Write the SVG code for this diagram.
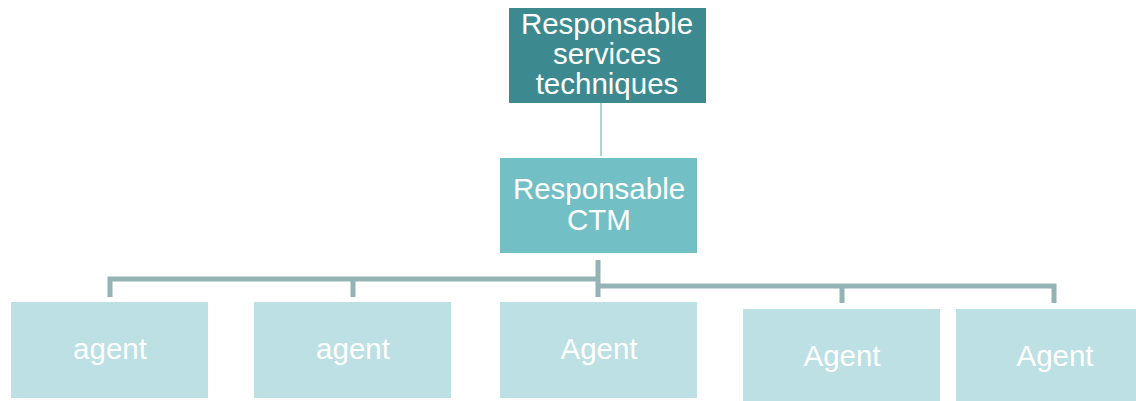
<svg xmlns="http://www.w3.org/2000/svg" width="1136" height="401" viewBox="0 0 1136 401">
<style>
text{font-family:"Liberation Sans",Arial,sans-serif;font-size:29.5px;fill:#fff;text-anchor:middle}
.lvl3{fill:#bce0e3}
.conn{stroke:#94b3b5;stroke-width:5;fill:none}
</style>
<rect width="1136" height="401" fill="#fff"/>
<g id="connectors">
<line x1="601" y1="96" x2="601" y2="156" stroke="#a8d5d8" stroke-width="2"/>
<path class="conn" d="M110 297 V279 H598 M353 279 V297"/>
<path class="conn" d="M598 260 V297 M598 286 H1054 V303 M842 286 V303"/>
</g>
<g id="n_top"><rect x="509" y="8" width="197" height="95" fill="#3c8a8f"/>
<text x="607" y="34">Responsable</text><text x="607" y="64">services</text><text x="607" y="94">techniques</text></g>
<g id="n_ctm"><rect x="500" y="158" width="197" height="95" fill="#72bfc6"/>
<text x="599" y="199">Responsable</text><text x="599" y="230">CTM</text></g>
<g id="n_a1"><rect class="lvl3" x="11" y="302" width="197" height="96"/><text x="110" y="359">agent</text></g>
<g id="n_a2"><rect class="lvl3" x="254" y="302" width="197" height="96"/><text x="353" y="359">agent</text></g>
<g id="n_a3"><rect class="lvl3" x="500" y="302" width="197" height="96"/><text x="599" y="359">Agent</text></g>
<g id="n_a4"><rect class="lvl3" x="743" y="309" width="197" height="92"/><text x="842" y="366">Agent</text></g>
<g id="n_a5"><rect class="lvl3" x="956" y="309" width="180" height="92"/><text x="1055" y="366">Agent</text></g>
</svg>
